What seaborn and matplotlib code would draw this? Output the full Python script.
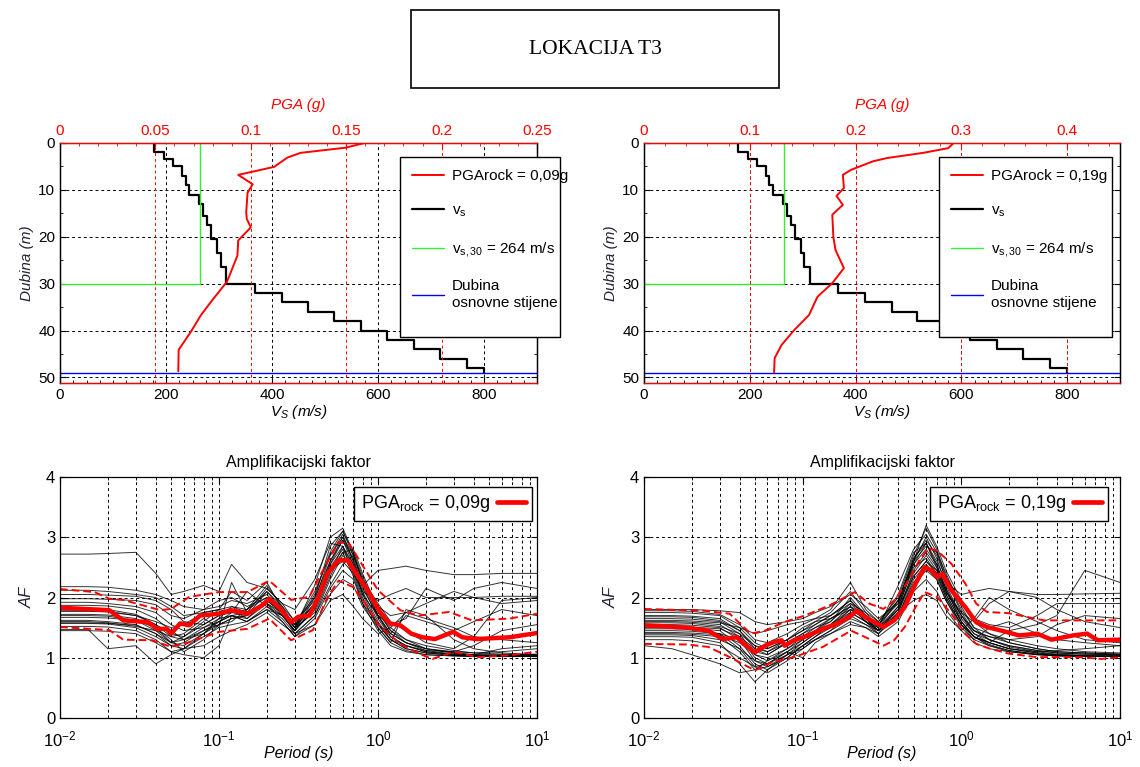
import numpy as np
import pandas as pd
import matplotlib
matplotlib.use("Agg")
import matplotlib.pyplot as plt
import seaborn as sns
from matplotlib.lines import Line2D
from matplotlib.patches import Rectangle
from matplotlib.ticker import MultipleLocator, FormatStrFormatter

# ---------------- data ----------------
# shear-wave velocity profile (layer tops in m, velocity in m/s)
vs_layer_top = [0, 2, 3.5, 5, 7, 9, 11, 13, 15.5, 17.5, 20.5, 23.5, 26.5, 30,
                32, 34, 36, 38, 40, 42, 44, 46, 48]
vs_layer_val = [177, 196, 213, 230, 237, 244, 263, 270, 278, 285, 297, 303, 314, 367,
                418, 468, 517, 567, 617, 667, 717, 767, 800]
bedrock_depth = 49
vs30_value = 264

# PGA profiles
pga09_depth = [0, 1.0, 2.1, 3.1, 5.1, 6.8, 8.8, 10.6, 14.8, 16.2, 18.0, 20.8, 24.0, 27.5,
               29.6, 33.9, 36.7, 40.2, 43.4, 44.1, 48.7]
pga09_vals = [0.1596, 0.1497, 0.1261, 0.1192, 0.1122, 0.0934, 0.1010, 0.0983, 0.0976,
              0.0979, 0.1000, 0.0934, 0.0930, 0.0896, 0.0875, 0.0791, 0.0739, 0.0687,
              0.0634, 0.0622, 0.0620]
pga19_depth = [0, 1.1, 2.1, 3.2, 3.9, 5.7, 6.8, 9.6, 11.3, 13.2, 15.3, 20.0, 22.8, 26.7,
               29.9, 32.8, 36.7, 39.9, 43.1, 45.9, 49.0]
pga19_vals = [0.2927, 0.2876, 0.2640, 0.2300, 0.2166, 0.1960, 0.1880, 0.1890, 0.1820,
              0.1880, 0.1780, 0.1790, 0.1810, 0.1890, 0.1780, 0.1640, 0.1560, 0.1420,
              0.1300, 0.1235, 0.1230]

# period grid for individual records
period_grid = [0.01, 0.015, 0.02, 0.03, 0.04, 0.05, 0.06, 0.08, 0.1, 0.12, 0.15, 0.2, 0.25,
               0.3, 0.4, 0.5, 0.6, 0.7, 0.8, 1.0, 1.2, 1.5, 2, 3, 4, 6, 10]

# amplification factor of individual records, PGArock = 0.09 g
af09_r01 = [2.72, 2.72, 2.73, 2.75, 2.40, 2.05, 2.10, 2.20, 2.10, 2.55, 2.25, 2.15, 1.90, 1.80, 2.30, 2.90, 2.85, 2.50, 2.20, 2.45, 2.48, 2.52, 2.45, 2.38, 2.38, 2.40, 2.40]
af09_r02 = [2.18, 2.18, 2.17, 2.12, 2.05, 1.95, 1.85, 1.80, 1.85, 1.95, 1.90, 2.05, 1.75, 1.55, 2.10, 2.70, 3.05, 2.60, 2.20, 1.85, 1.70, 1.75, 1.90, 2.10, 2.00, 1.90, 1.95]
af09_r03 = [2.12, 2.12, 2.10, 2.05, 2.00, 1.85, 1.70, 1.75, 1.80, 1.85, 1.80, 2.10, 1.85, 1.60, 2.00, 2.60, 2.95, 2.55, 2.05, 1.70, 1.55, 1.65, 2.15, 1.95, 2.15, 2.25, 2.15]
af09_r04 = [2.05, 2.05, 2.04, 2.02, 1.95, 1.80, 1.60, 1.55, 1.70, 1.75, 1.70, 1.95, 1.75, 1.50, 2.05, 2.75, 3.10, 2.70, 2.30, 1.90, 1.60, 1.45, 1.25, 1.15, 1.35, 1.95, 2.00]
af09_r05 = [1.98, 1.98, 1.97, 1.95, 1.88, 1.70, 1.65, 1.80, 1.95, 2.00, 1.85, 2.00, 1.80, 1.55, 1.90, 2.55, 2.85, 2.40, 2.10, 1.95, 2.05, 2.15, 2.00, 2.00, 2.00, 2.02, 2.02]
af09_r06 = [1.92, 1.92, 1.90, 1.85, 1.75, 1.55, 1.45, 1.50, 1.60, 1.70, 1.75, 1.90, 1.70, 1.45, 1.85, 2.55, 2.95, 2.65, 2.20, 1.65, 1.35, 1.20, 1.10, 1.05, 1.04, 1.03, 1.03]
af09_r07 = [1.87, 1.87, 1.86, 1.80, 1.65, 1.45, 1.30, 1.40, 1.55, 1.65, 1.70, 2.10, 1.80, 1.55, 1.80, 2.40, 2.85, 2.55, 2.10, 1.60, 1.30, 1.15, 1.08, 1.04, 1.03, 1.03, 1.02]
af09_r08 = [1.82, 1.82, 1.80, 1.72, 1.55, 1.35, 1.30, 1.45, 1.60, 1.75, 1.80, 2.20, 1.85, 1.50, 1.75, 2.35, 2.75, 2.80, 2.40, 1.80, 1.45, 1.25, 1.15, 1.08, 1.05, 1.04, 1.04]
af09_r09 = [1.77, 1.77, 1.76, 1.70, 1.55, 1.40, 1.35, 1.55, 1.70, 1.80, 1.65, 1.90, 1.75, 1.40, 1.70, 2.30, 2.70, 2.50, 2.05, 1.55, 1.30, 1.20, 1.10, 1.06, 1.05, 1.15, 1.20]
af09_r10 = [1.72, 1.72, 1.71, 1.65, 1.50, 1.25, 1.20, 1.40, 1.65, 1.85, 1.75, 2.15, 1.90, 1.60, 1.95, 2.70, 3.00, 2.60, 2.15, 1.70, 1.40, 1.25, 1.12, 1.06, 1.04, 1.05, 1.06]
af09_r11 = [1.67, 1.67, 1.66, 1.62, 1.50, 1.30, 1.10, 1.30, 1.55, 1.60, 1.80, 2.00, 1.70, 1.45, 1.85, 2.45, 2.60, 2.40, 1.95, 1.55, 1.30, 1.15, 1.08, 1.04, 1.03, 1.02, 1.03]
af09_r12 = [1.62, 1.62, 1.60, 1.55, 1.40, 1.20, 1.15, 1.40, 1.60, 1.70, 1.60, 1.85, 1.65, 1.40, 1.70, 2.20, 2.55, 2.70, 2.30, 1.70, 1.35, 1.20, 1.12, 1.10, 1.20, 1.45, 1.55]
af09_r13 = [1.57, 1.57, 1.56, 1.50, 1.35, 1.20, 1.25, 1.45, 1.55, 1.65, 1.70, 1.95, 1.75, 1.50, 1.90, 2.50, 2.80, 2.45, 2.00, 1.50, 1.25, 1.12, 1.05, 1.03, 1.02, 1.02, 1.02]
af09_r14 = [1.52, 1.52, 1.51, 1.45, 1.30, 1.10, 1.15, 1.35, 1.50, 1.55, 1.60, 1.80, 1.60, 1.35, 1.65, 2.15, 2.45, 2.30, 1.90, 1.45, 1.20, 1.10, 1.05, 1.03, 1.02, 1.02, 1.02]
af09_r15 = [1.47, 1.47, 1.15, 1.20, 0.90, 1.05, 1.15, 1.20, 1.35, 1.45, 1.55, 1.75, 1.55, 1.40, 1.55, 1.95, 2.05, 1.85, 1.65, 1.40, 1.50, 1.75, 1.65, 1.50, 1.35, 1.30, 1.25]
af09_r16 = [1.45, 1.45, 1.44, 1.40, 1.25, 1.10, 1.05, 1.00, 1.20, 1.70, 1.60, 1.80, 1.70, 1.45, 2.00, 2.85, 3.10, 2.75, 2.25, 1.70, 1.40, 1.25, 1.15, 1.10, 1.08, 1.10, 1.15]
af09_r17 = [1.60, 1.60, 1.58, 1.52, 1.45, 1.35, 1.40, 1.65, 1.50, 2.25, 1.75, 1.90, 1.60, 1.35, 1.55, 2.05, 2.30, 2.20, 1.85, 1.50, 1.25, 1.80, 1.70, 1.30, 1.15, 1.08, 1.05]
af09_r18 = [1.70, 1.70, 1.69, 1.62, 1.45, 1.25, 1.35, 1.60, 1.80, 2.10, 1.95, 2.25, 1.80, 1.50, 2.20, 3.00, 3.15, 2.75, 2.35, 1.75, 1.45, 1.30, 1.20, 1.12, 1.08, 1.06, 1.05]
af09_r19 = [1.78, 1.78, 1.77, 1.70, 1.60, 1.50, 1.55, 1.75, 1.80, 1.75, 2.10, 1.85, 1.70, 1.45, 1.80, 2.45, 2.75, 2.35, 1.90, 1.55, 1.40, 1.70, 1.60, 1.45, 1.60, 1.80, 1.70]
af09_r20 = [1.58, 1.58, 1.57, 1.54, 1.40, 1.25, 1.30, 1.50, 1.65, 1.70, 1.65, 1.95, 1.75, 1.50, 1.90, 2.60, 3.00, 2.70, 2.25, 1.80, 1.50, 1.30, 1.15, 1.08, 1.05, 1.04, 1.03]

# amplification factor of individual records, PGArock = 0.19 g
af19_r01 = [1.80, 1.80, 1.80, 1.78, 1.75, 1.60, 1.55, 1.60, 1.65, 1.75, 1.85, 2.05, 1.85, 1.65, 1.90, 2.55, 2.90, 2.60, 2.25, 2.05, 2.10, 2.15, 2.10, 2.05, 2.05, 2.06, 2.07]
af19_r02 = [1.78, 1.78, 1.77, 1.72, 1.55, 1.30, 1.25, 1.40, 1.55, 1.65, 1.80, 2.25, 1.80, 1.60, 2.00, 2.70, 3.15, 2.80, 2.35, 1.90, 1.65, 1.55, 1.50, 1.70, 1.90, 1.90, 1.90]
af19_r03 = [1.75, 1.75, 1.74, 1.70, 1.50, 1.25, 1.15, 1.30, 1.45, 1.60, 1.75, 2.10, 1.75, 1.50, 1.85, 2.60, 3.00, 2.65, 2.20, 1.70, 1.45, 1.35, 1.25, 1.15, 1.10, 1.08, 1.06]
af19_r04 = [1.70, 1.70, 1.69, 1.65, 1.45, 1.15, 1.05, 1.25, 1.40, 1.55, 1.70, 1.95, 1.70, 1.55, 2.05, 2.75, 2.90, 2.55, 2.10, 1.65, 1.40, 1.30, 1.20, 1.12, 1.08, 1.06, 1.05]
af19_r05 = [1.65, 1.65, 1.64, 1.60, 1.40, 1.05, 0.95, 1.15, 1.35, 1.50, 1.65, 1.85, 1.60, 1.45, 1.80, 2.40, 2.70, 2.45, 2.05, 1.60, 1.35, 1.25, 1.15, 1.08, 1.05, 1.03, 1.03]
af19_r06 = [1.60, 1.60, 1.59, 1.55, 1.35, 1.00, 0.90, 1.10, 1.30, 1.45, 1.55, 1.75, 1.60, 1.50, 1.95, 2.60, 2.85, 2.75, 2.40, 1.85, 1.50, 1.30, 1.18, 1.10, 1.06, 1.04, 1.04]
af19_r07 = [1.55, 1.55, 1.54, 1.50, 1.30, 0.95, 0.85, 1.05, 1.25, 1.40, 1.55, 1.80, 1.65, 1.45, 1.70, 2.30, 2.55, 2.35, 2.00, 1.55, 1.30, 1.20, 1.12, 1.06, 1.04, 1.02, 1.02]
af19_r08 = [1.50, 1.50, 1.49, 1.45, 1.20, 0.90, 0.80, 1.00, 1.20, 1.35, 1.50, 1.70, 1.55, 1.40, 1.75, 2.45, 2.75, 2.50, 2.15, 1.70, 1.45, 1.35, 1.30, 1.35, 1.55, 1.70, 1.65]
af19_r09 = [1.45, 1.45, 1.44, 1.40, 1.15, 0.85, 0.75, 0.95, 1.15, 1.30, 1.45, 1.75, 1.60, 1.45, 1.85, 2.50, 2.65, 2.40, 2.00, 1.55, 1.35, 1.25, 1.45, 1.55, 1.70, 2.45, 2.25]
af19_r10 = [1.40, 1.40, 1.39, 1.35, 1.10, 0.80, 0.85, 1.00, 1.20, 1.35, 1.55, 1.85, 1.70, 1.50, 1.80, 2.35, 2.60, 2.45, 2.10, 1.75, 1.60, 1.90, 2.10, 2.00, 1.80, 1.60, 1.50]
af19_r11 = [1.35, 1.35, 1.34, 1.25, 0.90, 0.60, 0.80, 1.05, 1.15, 1.30, 1.45, 1.65, 1.55, 1.45, 1.70, 2.20, 2.45, 2.30, 1.95, 1.55, 1.35, 1.25, 1.15, 1.10, 1.12, 1.15, 1.20]
af19_r12 = [1.30, 1.30, 1.28, 1.20, 1.00, 0.85, 0.90, 1.05, 1.20, 1.30, 1.40, 1.60, 1.50, 1.35, 1.60, 2.10, 2.30, 2.10, 1.80, 1.45, 1.25, 1.15, 1.10, 1.05, 1.03, 1.02, 1.02]
af19_r13 = [1.20, 1.15, 1.05, 0.90, 0.75, 0.80, 0.95, 1.10, 1.00, 1.25, 1.40, 1.55, 1.50, 1.40, 1.75, 1.95, 2.05, 1.95, 1.70, 1.45, 1.65, 2.00, 1.80, 1.60, 1.45, 1.30, 1.25]
af19_r14 = [1.62, 1.62, 1.61, 1.58, 1.50, 1.40, 1.45, 1.55, 1.60, 1.65, 1.70, 1.95, 1.65, 1.50, 2.20, 2.80, 3.05, 2.75, 2.30, 1.80, 1.50, 1.40, 1.30, 1.20, 1.15, 1.10, 1.08]
af19_r15 = [1.52, 1.52, 1.51, 1.48, 1.35, 1.15, 1.10, 1.25, 1.40, 1.50, 1.60, 2.00, 1.70, 1.55, 1.90, 2.65, 2.95, 2.70, 2.30, 1.75, 1.45, 1.30, 1.20, 1.12, 1.08, 1.06, 1.05]
af19_r16 = [1.42, 1.42, 1.41, 1.38, 1.25, 1.05, 1.00, 1.15, 1.30, 1.45, 1.60, 1.90, 1.65, 1.45, 1.80, 2.55, 2.80, 2.55, 2.15, 1.60, 1.35, 1.20, 1.10, 1.05, 1.03, 1.02, 1.02]
af19_r17 = [1.68, 1.68, 1.67, 1.62, 1.45, 1.20, 1.10, 1.30, 1.50, 1.60, 1.65, 1.80, 1.70, 1.55, 1.95, 2.65, 2.90, 2.50, 2.10, 1.70, 1.40, 1.25, 1.15, 1.08, 1.05, 1.03, 1.03]
af19_r18 = [1.48, 1.48, 1.47, 1.40, 1.30, 1.10, 1.05, 1.25, 1.35, 1.45, 1.65, 1.85, 1.60, 1.40, 1.70, 2.25, 2.50, 2.30, 1.95, 1.50, 1.30, 1.50, 1.60, 1.40, 1.30, 1.25, 1.20]
af19_r19 = [1.58, 1.58, 1.57, 1.52, 1.40, 1.20, 1.15, 1.30, 1.45, 1.55, 1.70, 1.90, 1.75, 1.60, 1.95, 2.60, 3.20, 2.85, 2.45, 1.95, 1.60, 1.40, 1.25, 1.15, 1.10, 1.08, 1.06]
af19_r20 = [1.38, 1.38, 1.37, 1.30, 1.15, 0.95, 0.90, 1.10, 1.25, 1.40, 1.50, 1.80, 1.65, 1.45, 1.75, 2.35, 2.60, 2.40, 2.05, 1.60, 1.35, 1.22, 1.12, 1.06, 1.04, 1.03, 1.02]

# median and +/- sigma, PGArock = 0.09 g
med09_T = [0.01, 0.0204, 0.025, 0.036, 0.0405, 0.047, 0.05, 0.057, 0.065, 0.076, 0.099, 0.119,
           0.151, 0.187, 0.207, 0.243, 0.284, 0.316, 0.37, 0.423, 0.482, 0.565, 0.644, 0.755,
           0.861, 1.01, 1.18, 1.38, 1.62, 1.90, 2.28, 2.97, 3.39, 4.19, 6.73, 10]
med09_AF = [1.83, 1.79, 1.62, 1.59, 1.48, 1.48, 1.40, 1.57, 1.54, 1.70, 1.73, 1.79, 1.73, 1.87,
            1.98, 1.81, 1.59, 1.68, 1.70, 2.01, 2.40, 2.62, 2.62, 2.34, 2.12, 1.79, 1.57, 1.54,
            1.40, 1.34, 1.31, 1.43, 1.34, 1.31, 1.34, 1.41]
up09_T = [0.01, 0.0165, 0.0204, 0.025, 0.0427, 0.05, 0.065, 0.1, 0.151, 0.207, 0.284, 0.37,
          0.44, 0.565, 0.66, 0.81, 1.0, 1.38, 1.8, 2.8, 3.9, 6.7, 10]
up09_AF = [2.14, 2.09, 1.98, 1.96, 1.79, 1.81, 2.01, 2.09, 2.09, 2.28, 1.96, 2.01, 2.40, 2.92,
           2.89, 2.51, 2.12, 1.79, 1.70, 1.76, 1.62, 1.65, 1.73]
lo09_T = [0.01, 0.0204, 0.025, 0.038, 0.05, 0.065, 0.1, 0.151, 0.207, 0.284, 0.39, 0.482,
          0.565, 0.7, 0.861, 1.01, 1.38, 1.8, 2.2, 3.0, 4.2, 6.7, 10]
lo09_AF = [1.51, 1.46, 1.30, 1.29, 1.18, 1.26, 1.43, 1.48, 1.65, 1.29, 1.46, 2.01, 2.28, 2.17,
           1.84, 1.54, 1.23, 1.07, 0.98, 1.10, 1.01, 1.04, 1.10]

# median and +/- sigma, PGArock = 0.19 g
med19_T = [0.01, 0.0186, 0.0254, 0.0313, 0.0385, 0.0427, 0.05, 0.058, 0.066, 0.0737, 0.077,
           0.088, 0.109, 0.134, 0.164, 0.202, 0.219, 0.249, 0.323, 0.377, 0.44, 0.515, 0.586,
           0.65, 0.703, 0.76, 0.865, 1.06, 1.24, 1.45, 1.79, 2.32, 3.0, 3.7, 5.05, 6.2, 7.25, 10]
med19_AF = [1.54, 1.50, 1.45, 1.31, 1.34, 1.23, 1.09, 1.20, 1.26, 1.29, 1.20, 1.29, 1.37, 1.48,
            1.56, 1.70, 1.78, 1.67, 1.51, 1.62, 1.84, 2.23, 2.50, 2.45, 2.34, 2.39, 2.12, 1.84,
            1.59, 1.51, 1.45, 1.37, 1.40, 1.30, 1.37, 1.40, 1.29, 1.30]
up19_T = [0.01, 0.024, 0.0347, 0.047, 0.058, 0.076, 0.103, 0.148, 0.213, 0.262, 0.323, 0.377,
          0.465, 0.542, 0.617, 0.703, 0.865, 1.06, 1.24, 1.45, 1.98, 3.33, 5.6, 10]
up19_AF = [1.81, 1.78, 1.73, 1.40, 1.45, 1.59, 1.70, 1.87, 2.09, 1.90, 1.81, 1.95, 2.28, 2.61,
           2.81, 2.78, 2.56, 2.23, 1.90, 1.76, 1.74, 1.62, 1.62, 1.62]
lo19_T = [0.01, 0.0186, 0.0254, 0.0347, 0.05, 0.0645, 0.088, 0.134, 0.202, 0.249, 0.323, 0.377,
          0.44, 0.515, 0.586, 0.703, 0.865, 1.06, 1.24, 1.52, 1.98, 3.0, 5.6, 7.6, 10]
lo19_AF = [1.23, 1.22, 1.18, 1.01, 0.79, 0.93, 1.01, 1.18, 1.45, 1.34, 1.20, 1.29, 1.51, 1.84,
           2.09, 2.01, 1.73, 1.40, 1.23, 1.15, 1.07, 1.01, 1.01, 0.98, 1.01]

records09 = [af09_r01, af09_r02, af09_r03, af09_r04, af09_r05, af09_r06, af09_r07, af09_r08,
             af09_r09, af09_r10, af09_r11, af09_r12, af09_r13, af09_r14, af09_r15, af09_r16,
             af09_r17, af09_r18, af09_r19, af09_r20]
records19 = [af19_r01, af19_r02, af19_r03, af19_r04, af19_r05, af19_r06, af19_r07, af19_r08,
             af19_r09, af19_r10, af19_r11, af19_r12, af19_r13, af19_r14, af19_r15, af19_r16,
             af19_r17, af19_r18, af19_r19, af19_r20]

# ---------------- style ----------------
sns.set_style("white")
plt.rcParams["font.family"] = ["Liberation Sans", "DejaVu Sans"]
plt.rcParams["mathtext.fontset"] = "custom"
plt.rcParams["mathtext.rm"] = "Liberation Sans"
plt.rcParams["mathtext.it"] = "Liberation Sans:italic"
plt.rcParams["mathtext.bf"] = "Liberation Sans:bold"
plt.rcParams["text.color"] = "black"
plt.rcParams["axes.labelcolor"] = "black"
plt.rcParams["axes.edgecolor"] = "black"
plt.rcParams["axes.linewidth"] = 0.9
plt.rcParams["xtick.color"] = "black"
plt.rcParams["ytick.color"] = "black"
plt.rcParams["xtick.bottom"] = True
plt.rcParams["ytick.left"] = True

W, H = 1140, 767
fig = plt.figure(figsize=(W / 100, H / 100), dpi=100)

GRID_DASH = (0, (3, 3))
LABEL_COL = "#222233"


def fr(x0, y_top, w, h):
    return [x0 / W, 1 - (y_top + h) / H, w / W, h / H]


def step_profile(tops, vals, bottom):
    xs, ys = [], []
    edges = list(tops[1:]) + [bottom]
    for v, t, b in zip(vals, tops, edges):
        xs += [v, v]
        ys += [t, b]
    return xs, ys


def depth_panel(rect, pga_depth, pga_vals, pga_max, pga_step, pga_text, leg_x, leg_w):
    ax = fig.add_axes(rect)
    xs, ys = step_profile(vs_layer_top, vs_layer_val, bedrock_depth)
    sns.lineplot(x=xs, y=ys, ax=ax, sort=False, estimator=None, color="black", lw=1.6)
    sns.lineplot(x=[vs30_value, vs30_value, 0], y=[0, 30, 30], ax=ax, sort=False,
                 estimator=None, color="#33ee33", lw=1.0)
    sns.lineplot(x=[0, 900], y=[bedrock_depth, bedrock_depth], ax=ax, sort=False,
                 estimator=None, color="blue", lw=1.0)
    ax.set_xlim(0, 900)
    ax.set_ylim(51.2, 0)
    ax.xaxis.set_major_locator(MultipleLocator(200))
    ax.xaxis.set_minor_locator(MultipleLocator(25))
    ax.yaxis.set_major_locator(MultipleLocator(10))
    ax.yaxis.set_minor_locator(MultipleLocator(5))
    ax.grid(True, which="major", color="black", ls=GRID_DASH, lw=0.7)
    ax.tick_params(which="both", direction="in", right=True, top=False, labelsize=11)
    ax.tick_params(which="major", length=4)
    ax.tick_params(which="minor", length=2)
    ax.set_xlabel(r"$\mathit{V_S}$ (m/s)", fontstyle="italic", fontsize=11, labelpad=1)
    ax.set_ylabel("Dubina (m)", fontstyle="italic", fontsize=11, color=LABEL_COL, labelpad=3)

    tw = ax.twiny()
    sns.lineplot(x=pga_vals, y=pga_depth, ax=tw, sort=False, estimator=None, color="red", lw=1.4)
    tw.set_xlim(0, pga_max)
    tw.set_ylim(51.2, 0)
    tw.xaxis.set_major_locator(MultipleLocator(pga_step))
    tw.xaxis.set_major_formatter(FormatStrFormatter("%g"))
    tw.xaxis.set_minor_locator(MultipleLocator(pga_step / 5))
    tw.grid(True, axis="x", which="major", color="red", ls=GRID_DASH, lw=0.7)
    tw.tick_params(axis="x", which="both", direction="in", colors="red", labelsize=11)
    tw.tick_params(axis="x", which="major", length=4)
    tw.tick_params(axis="x", which="minor", length=2)
    tw.spines["top"].set_color("red")
    tw.spines["bottom"].set_color("red")
    tw.set_xlabel("PGA (g)", fontstyle="italic", color="red", fontsize=11, labelpad=11)

    # legend frame with the reference's exact extent
    tw.add_patch(Rectangle((leg_x / W, 1 - 337 / H), leg_w / W, 180 / H,
                           transform=fig.transFigure, clip_on=False, facecolor="white",
                           edgecolor="black", lw=1.0, zorder=4))
    handles = [Line2D([], [], color="red", lw=1.4), Line2D([], [], color="black", lw=1.6),
               Line2D([], [], color="#33ee33", lw=1.0), Line2D([], [], color="blue", lw=1.0)]
    labels = [pga_text, r"v$_{\mathrm{s}}$", r"v$_{\mathrm{s,30}}$ = %d m/s" % vs30_value,
              "Dubina\nosnovne stijene"]
    leg = tw.legend(handles, labels, loc="upper left",
                    bbox_to_anchor=(leg_x / W, 1 - 157 / H, leg_w / W, 0),
                    bbox_transform=fig.transFigure, mode="expand", fontsize=11,
                    frameon=False, borderpad=0.8, labelspacing=1.35,
                    handlelength=2.1, handletextpad=0.5, borderaxespad=0)
    leg.set_zorder(5)
    return ax


def af_panel(rect, records, med_T, med_AF, up_T, up_AF, lo_T, lo_AF, pga_text, leg_right):
    ax = fig.add_axes(rect)
    n = len(records)
    df = pd.DataFrame({
        "T": np.tile(period_grid, n),
        "AF": np.concatenate([np.asarray(r, float) for r in records]),
        "rec": np.repeat(np.arange(n), len(period_grid)),
    })
    sns.lineplot(data=df, x="T", y="AF", units="rec", estimator=None, color="black",
                 lw=0.7, alpha=0.8, ax=ax, legend=False)
    sns.lineplot(x=up_T, y=up_AF, ax=ax, sort=False, estimator=None, color="red", lw=1.4)
    ax.lines[-1].set_linestyle((0, (4, 2)))
    sns.lineplot(x=lo_T, y=lo_AF, ax=ax, sort=False, estimator=None, color="red", lw=1.4)
    ax.lines[-1].set_linestyle((0, (4, 2)))
    sns.lineplot(x=med_T, y=med_AF, ax=ax, sort=False, estimator=None, color="red", lw=3.2)
    ax.set_xscale("log")
    ax.set_xlim(0.01, 10)
    ax.set_ylim(0, 4)
    ax.yaxis.set_major_locator(MultipleLocator(1))
    ax.grid(True, which="both", axis="x", color="black", ls=GRID_DASH, lw=0.7)
    ax.grid(True, which="major", axis="y", color="black", ls=GRID_DASH, lw=0.7)
    ax.tick_params(which="both", direction="in", top=True, right=True, labelsize=12)
    ax.tick_params(axis="x", which="both", pad=8)
    ax.tick_params(which="major", length=4)
    ax.tick_params(which="minor", length=2)
    ax.set_title("Amplifikacijski faktor", fontsize=11.5, pad=7)
    ax.set_xlabel("Period (s)", fontstyle="italic", fontsize=11.5, labelpad=-2)
    ax.set_ylabel("AF", fontstyle="italic", fontsize=12, color=LABEL_COL, labelpad=8)
    h = Line2D([], [], color="red", lw=3.4)
    leg = ax.legend([h], [pga_text], loc="upper right",
                    bbox_to_anchor=(leg_right / W, 1 - 487 / H), bbox_transform=fig.transFigure,
                    markerfirst=False, fontsize=13, frameon=True, fancybox=False, framealpha=1,
                    edgecolor="black", borderpad=0.35, handlelength=1.6, handletextpad=0.4,
                    borderaxespad=0)
    leg.get_frame().set_linewidth(1.0)
    return ax


depth_panel(fr(60, 143, 477, 240), pga09_depth, pga09_vals, 0.25, 0.05,
            "PGArock = 0,09g", 400, 160)
depth_panel(fr(644, 143, 476, 240), pga19_depth, pga19_vals, 0.45, 0.1,
            "PGArock = 0,19g", 939, 173)
af_panel(fr(60, 477, 477, 241), records09, med09_T, med09_AF, up09_T, up09_AF, lo09_T, lo09_AF,
         r"PGA$_{\mathrm{rock}}$ = 0,09g", 532)
af_panel(fr(644, 477, 476, 241), records19, med19_T, med19_AF, up19_T, up19_AF, lo19_T, lo19_AF,
         r"PGA$_{\mathrm{rock}}$ = 0,19g", 1108)

# title box
fig.add_artist(Rectangle((411 / W, 1 - 88 / H), 368 / W, 78 / H, transform=fig.transFigure,
                         fill=False, edgecolor="black", lw=1.2))
fig.text(595 / W, 1 - 49 / H, "LOKACIJA T3", ha="center", va="center",
         family=["Liberation Serif", "DejaVu Serif"], fontsize=15.5)

fig.savefig("out.png", dpi=100)
